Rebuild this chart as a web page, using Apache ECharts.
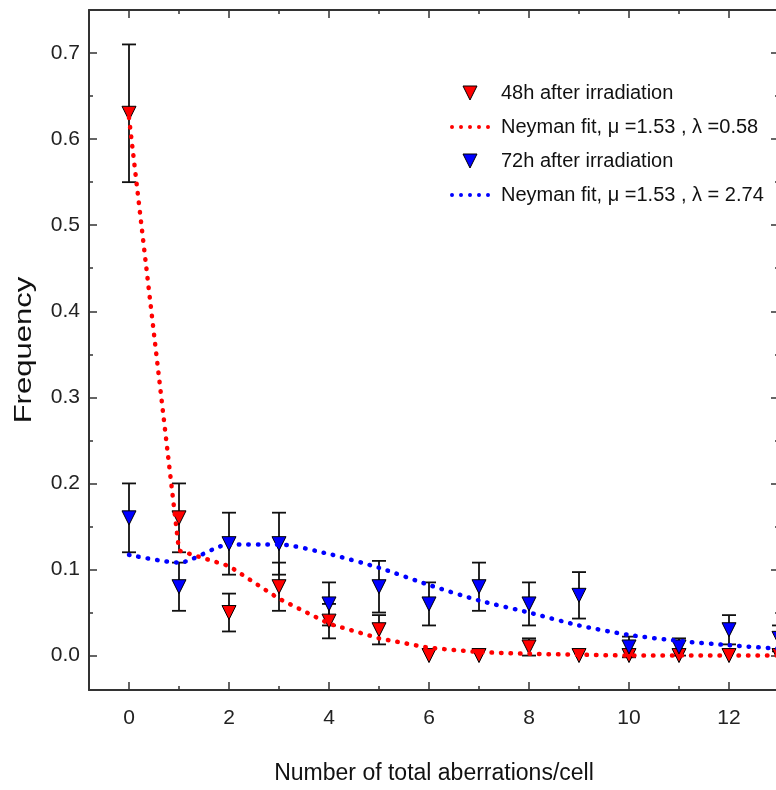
<!DOCTYPE html>
<html>
<head>
<meta charset="utf-8">
<script src="https://cdn.jsdelivr.net/npm/echarts@6/dist/echarts.min.js"></script>
<style>
  html, body { margin: 0; padding: 0; overflow: hidden; background: #ffffff; }
  #chart { width: 790px; height: 790px; }
</style>
</head>
<body>
<div id="chart"></div>
<script>
// Aberrations per cell (x values)
const aberrations = [0, 1, 2, 3, 4, 5, 6, 7, 8, 9, 10, 11, 12, 13];

// Observed frequencies and their errors, 48 h after irradiation
const freq48h = [0.63, 0.16, 0.05, 0.08, 0.04, 0.03, 0, 0, 0.01, 0, 0, 0, 0, 0];
const err48h  = [0.08, 0.04, 0.022, 0.028, 0.02, 0.017, 0, 0, 0.01, 0, 0, 0, 0, 0];

// Observed frequencies and their errors, 72 h after irradiation
const freq72h = [0.16, 0.08, 0.13, 0.13, 0.06, 0.08, 0.06, 0.08, 0.06, 0.07, 0.01, 0.01, 0.03, 0.02];
const err72h  = [0.04, 0.028, 0.036, 0.036, 0.025, 0.03, 0.025, 0.028, 0.025, 0.027, 0.012, 0.01, 0.017, 0.015];

// Neyman type A fitted curves
const fit48h = [0.625, 0.122, 0.104, 0.066, 0.037, 0.02, 0.009, 0.004, 0.002, 0.001, 0, 0, 0, 0];
const fit72h = [0.117, 0.108, 0.129, 0.129, 0.118, 0.102, 0.082, 0.064, 0.05, 0.035, 0.024, 0.017, 0.012, 0.008];

// Tick positions and labels
const xMajorTicks = [0, 2, 4, 6, 8, 10, 12];
const xMinorTicks = [1, 3, 5, 7, 9, 11, 13];
const yMajorTicks = [0, 0.1, 0.2, 0.3, 0.4, 0.5, 0.6, 0.7];
const yMinorTicks = [0.05, 0.15, 0.25, 0.35, 0.45, 0.55, 0.65];

const seriesNames = [
  '48h after irradiation',
  'Neyman fit, \u03bc =1.53 , \u03bb =0.58',
  '72h after irradiation',
  'Neyman fit, \u03bc =1.53 , \u03bb = 2.74'
];

const FONT = "'Liberation Sans', Arial, sans-serif";
const AXIS_COLOR = '#333333';
const RED = '#ff0000';
const BLUE = '#0000ff';

const X_MIN = -0.8, X_MAX = 13;
const Y_MIN = -0.04, Y_MAX = 0.75;

// five round dots used as legend icon for the fitted curves
const dotsIcon = 'path://' + [2, 11, 20, 29, 38].map(function (c) {
  return 'M' + (c - 2) + ',2a2,2 0 1,0 4,0a2,2 0 1,0 -4,0';
}).join(' ');
// downward-pointing triangle for the measured data in the legend
const downTriangleIcon = 'path://M0,0L13,0L6.5,13Z';

function pairs(ys) {
  return ys.map(function (v, i) { return [aberrations[i], v]; });
}

function errorRows(ys, errs) {
  const rows = [];
  ys.forEach(function (v, i) {
    if (errs[i] > 0) rows.push([aberrations[i], v - errs[i], v + errs[i]]);
  });
  return rows;
}

function renderErrorBar(params, api) {
  const x = api.value(0);
  const lo = api.coord([x, api.value(1)]);
  const hi = api.coord([x, api.value(2)]);
  const half = 7;
  const style = { stroke: '#111111', lineWidth: 1.8 };
  return {
    type: 'group',
    children: [
      { type: 'line', shape: { x1: lo[0], y1: lo[1], x2: hi[0], y2: hi[1] }, style: style },
      { type: 'line', shape: { x1: hi[0] - half, y1: hi[1], x2: hi[0] + half, y2: hi[1] }, style: style },
      { type: 'line', shape: { x1: lo[0] - half, y1: lo[1], x2: lo[0] + half, y2: lo[1] }, style: style }
    ]
  };
}

function xAxisDef(position, ticks, length, showLine, showLabels) {
  return {
    type: 'value', position: position, min: X_MIN, max: X_MAX,
    axisLine: { show: showLine, onZero: false, lineStyle: { color: AXIS_COLOR, width: 2 } },
    axisTick: { show: true, inside: true, length: length, customValues: ticks,
                lineStyle: { color: AXIS_COLOR, width: 1.5 } },
    axisLabel: showLabels
      ? { show: true, customValues: ticks, margin: 18, fontSize: 21, color: '#222222', fontFamily: FONT }
      : { show: false },
    splitLine: { show: false }
  };
}

function yAxisDef(position, ticks, length, showLine, showLabels) {
  return {
    type: 'value', position: position, min: Y_MIN, max: Y_MAX,
    axisLine: { show: showLine, onZero: false, lineStyle: { color: AXIS_COLOR, width: 2 } },
    axisTick: { show: true, inside: true, length: length, customValues: ticks,
                lineStyle: { color: AXIS_COLOR, width: 1.5 } },
    axisLabel: showLabels
      ? { show: true, customValues: ticks, margin: 9, fontSize: 21, color: '#222222', fontFamily: FONT,
          formatter: function (v) { return v.toFixed(1); } }
      : { show: false },
    splitLine: { show: false }
  };
}

const xBottom = xAxisDef('bottom', xMajorTicks, 8, true, true);
xBottom.name = 'Number of total aberrations/cell';
xBottom.nameLocation = 'middle';
xBottom.nameGap = 72;
xBottom.nameTextStyle = { fontSize: 23, color: '#111111', fontFamily: FONT };

const chart = echarts.init(document.getElementById('chart'), null, { renderer: 'canvas' });

chart.setOption({
  animation: false,
  backgroundColor: '#ffffff',
  grid: { left: 89, top: 10, width: 690, height: 681, containLabel: false },
  xAxis: [
    xBottom,
    xAxisDef('bottom', xMinorTicks, 4, false, false),
    xAxisDef('top', xMajorTicks, 8, true, false),
    xAxisDef('top', xMinorTicks, 4, false, false)
  ],
  yAxis: [
    yAxisDef('left', yMajorTicks, 8, true, true),
    yAxisDef('left', yMinorTicks, 4, false, false),
    yAxisDef('right', yMajorTicks, 8, true, false),
    yAxisDef('right', yMinorTicks, 4, false, false)
  ],
  graphic: [{
    type: 'text',
    x: 25, y: 350,
    rotation: Math.PI / 2,
    scaleX: 1.35,
    style: {
      text: 'Frequency',
      font: '23px ' + FONT,
      fill: '#111111',
      align: 'center',
      verticalAlign: 'middle'
    }
  }],
  legend: {
    orient: 'vertical',
    left: 445, top: 78,
    itemWidth: 40, itemHeight: 14, itemGap: 14,
    selectedMode: false,
    textStyle: { fontSize: 20, color: '#111111', fontFamily: FONT, padding: [0, 0, 0, 6] },
    data: [
      { name: seriesNames[0], icon: downTriangleIcon,
        itemStyle: { color: RED, borderColor: '#000000', borderWidth: 1 } },
      { name: seriesNames[1], icon: dotsIcon, itemStyle: { color: RED, borderWidth: 0 } },
      { name: seriesNames[2], icon: downTriangleIcon,
        itemStyle: { color: BLUE, borderColor: '#000000', borderWidth: 1 } },
      { name: seriesNames[3], icon: dotsIcon, itemStyle: { color: BLUE, borderWidth: 0 } }
    ]
  },
  series: [
    {
      type: 'custom', name: 'err48', renderItem: renderErrorBar,
      encode: { x: 0, y: [1, 2] }, data: errorRows(freq48h, err48h)
    },
    {
      type: 'scatter', name: seriesNames[0], data: pairs(freq48h),
      symbol: 'triangle', symbolRotate: 180, symbolSize: [14, 14],
      itemStyle: { color: RED, borderColor: '#000000', borderWidth: 1, opacity: 1 }
    },
    {
      type: 'line', name: seriesNames[1], data: pairs(fit48h),
      symbol: 'none', smooth: false, color: RED,
      lineStyle: { color: RED, width: 4.5, type: [0.5, 9], cap: 'round' }
    },
    {
      type: 'custom', name: 'err72', renderItem: renderErrorBar,
      encode: { x: 0, y: [1, 2] }, data: errorRows(freq72h, err72h)
    },
    {
      type: 'scatter', name: seriesNames[2], data: pairs(freq72h),
      symbol: 'triangle', symbolRotate: 180, symbolSize: [14, 14],
      itemStyle: { color: BLUE, borderColor: '#000000', borderWidth: 1, opacity: 1 }
    },
    {
      type: 'line', name: seriesNames[3], data: pairs(fit72h),
      symbol: 'none', smooth: 0.25, color: BLUE,
      lineStyle: { color: BLUE, width: 4.5, type: [0.5, 9], cap: 'round' }
    }
  ]
});
</script>
</body>
</html>
